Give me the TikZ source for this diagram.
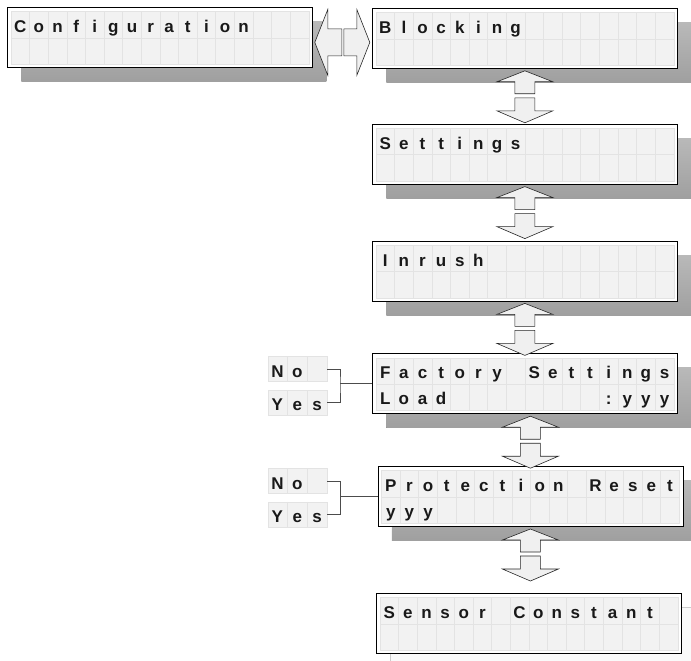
\documentclass[tikz,border=0pt]{standalone}
\usepackage{fontspec}
\setmainfont{Liberation Sans}
\usetikzlibrary{positioning,calc,shadows}

\tikzset{
  lcdbase/.style={draw=black, line width=0.8pt, fill=white, minimum width=305pt,
    minimum height=60pt, inner sep=0pt, anchor=north west},
  lcd/.style={lcdbase, drop shadow={shadow xshift=14pt, shadow yshift=-14pt, opacity=1,
    top color=gray!55, bottom color=gray!75, draw=none}},
  lcdlast/.style={lcdbase, drop shadow={shadow xshift=14pt, shadow yshift=-14pt, opacity=1,
    fill=gray!4, draw=gray!40, line width=0.5pt}},
  optbox/.style={fill=gray!10, draw=gray!22, line width=0.5pt, minimum width=59pt,
    minimum height=25pt, inner sep=0pt},
  cellline/.style={draw=gray!22, line width=0.5pt},
  lcdchar/.style={font=\bfseries\fontsize{17}{17}\selectfont, anchor=base, inner sep=0pt, text=black!90},
  blockarrow/.style={draw=black!85, line width=0.6pt, fill=gray!12, line join=miter},
  bracket/.style={draw=black!70, line width=0.7pt}
}

\newcommand{\lcdcells}[3]{%
  \path (#1.north west) ++(4,4.5) coordinate (#1-tl);
  \path (#1.south east) ++(-4,-3.5) coordinate (#1-br);
  \draw[cellline, fill=gray!10] (#1-tl) rectangle (#1-br);
  \foreach \k in {1,...,15}
    \draw[cellline] ($(#1-tl)!\k/16!(#1-tl -| #1-br)$) -- ($(#1-tl |- #1-br)!\k/16!(#1-br)$);
  \draw[cellline] ($(#1-tl)!.5!(#1-tl |- #1-br)$) -- ($(#1-tl -| #1-br)!.5!(#1-br)$);
  \foreach \ch [count=\k] in {#2} {%
    \pgfmathsetmacro\f{(\k-.5)/16}
    \node[lcdchar] (#1-a\k) at ($(#1-tl)!\f!(#1-tl -| #1-br)+(0,21)$) {\ch};}
  \foreach \ch [count=\k] in {#3} {%
    \pgfmathsetmacro\f{(\k-.5)/16}
    \node[lcdchar] (#1-b\k) at ($(#1-tl)!\f!(#1-tl -| #1-br)+(0,46.5)$) {\ch};}
}

\newcommand{\optcells}[2]{%
  \foreach \k in {1,2}
    \draw[cellline] ($(#1.north west)!\k/3!(#1.north east)$) -- ($(#1.south west)!\k/3!(#1.south east)$);
  \foreach \ch [count=\k] in {#2} {%
    \pgfmathsetmacro\f{(\k-.5)/3}
    \node[lcdchar] (#1-a\k) at ($(#1.north west)!\f!(#1.north east)+(0,21)$) {\ch};}
}

\newcommand{\updown}[1]{%
  \draw[blockarrow] #1 ++(0,2) -- ++(28,11) -- ++(-18,0) -- ++(0,12) -- ++(-20,0)
    -- ++(0,-12) -- ++(-18,0) -- cycle;
  \draw[blockarrow] #1 ++(-10,29) -- ++(20,0) -- ++(0,13) -- ++(18,0) -- ++(-28,12)
    -- ++(-28,-12) -- ++(18,0) -- cycle;
}

\begin{document}
\begin{tikzpicture}[x=1pt,y=-1pt]
  \useasboundingbox (0,0) rectangle (691,661);

  \node[lcd] (config) at (7,7) {};
  \node[lcd] (blocking) at (372,8) {};
  \node[lcd, below=55pt of blocking] (settings) {};
  \node[lcd, below=56pt of settings] (inrush) {};
  \node[lcd, below=52pt of inrush] (factory) {};
  \node[lcd, below=52pt of factory, xshift=5.5pt] (protreset) {};
  \node[lcdlast, below=66pt of protreset, xshift=-1.5pt] (sensor) {};

  \lcdcells{config}{C,o,n,f,i,g,u,r,a,t,i,o,n}{}
  \lcdcells{blocking}{B,l,o,c,k,i,n,g}{}
  \lcdcells{settings}{S,e,t,t,i,n,g,s}{}
  \lcdcells{inrush}{I,n,r,u,s,h}{}
  \lcdcells{factory}{F,a,c,t,o,r,y,{},S,e,t,t,i,n,g,s}{L,o,a,d,{},{},{},{},{},{},{},{},:,y,y,y}
  \lcdcells{protreset}{P,r,o,t,e,c,t,i,o,n,{},R,e,s,e,t}{y,y,y}
  \lcdcells{sensor}{S,e,n,s,o,r,{},C,o,n,s,t,a,n,t}{}

  \coordinate (hmid) at ($(config.east)+(0,5)$);
  \draw[blockarrow] (hmid) ++(2,0) -- ++(13,-33) -- ++(0,19.5) -- ++(14,0) -- ++(0,27)
    -- ++(-14,0) -- ++(0,19.5) -- cycle;
  \draw[blockarrow] (hmid) ++(31,-13.5) -- ++(13,0) -- ++(0,-19.5) -- ++(13,33)
    -- ++(-13,33) -- ++(0,-19.5) -- ++(-13,0) -- cycle;

  \updown{(blocking.south)}
  \updown{(settings.south)}
  \updown{(inrush.south)}
  \updown{(factory.south -| protreset.south)}
  \updown{(protreset.south)}

  \node[optbox, anchor=north east] (fNo) at ($(factory.north west)+(-45,3)$) {};
  \node[optbox, below=8pt of fNo] (fYes) {};
  \optcells{fNo}{N,o}
  \optcells{fYes}{Y,e,s}
  \coordinate (fjoin) at ($(factory.west)+(-32,0)$);
  \draw[bracket] (fNo.east) -| (fjoin) |- (fYes.east);
  \draw[bracket] (fjoin) -- (factory.west);

  \node[optbox, anchor=north east] (pNo) at ($(protreset.north west)+(-50.5,2)$) {};
  \node[optbox, below=8pt of pNo] (pYes) {};
  \optcells{pNo}{N,o}
  \optcells{pYes}{Y,e,s}
  \coordinate (pjoin) at ($(protreset.west)+(-37,0)$);
  \draw[bracket] (pNo.east) -| (pjoin) |- (pYes.east);
  \draw[bracket] (pjoin) -- (protreset.west);
\end{tikzpicture}
\end{document}
